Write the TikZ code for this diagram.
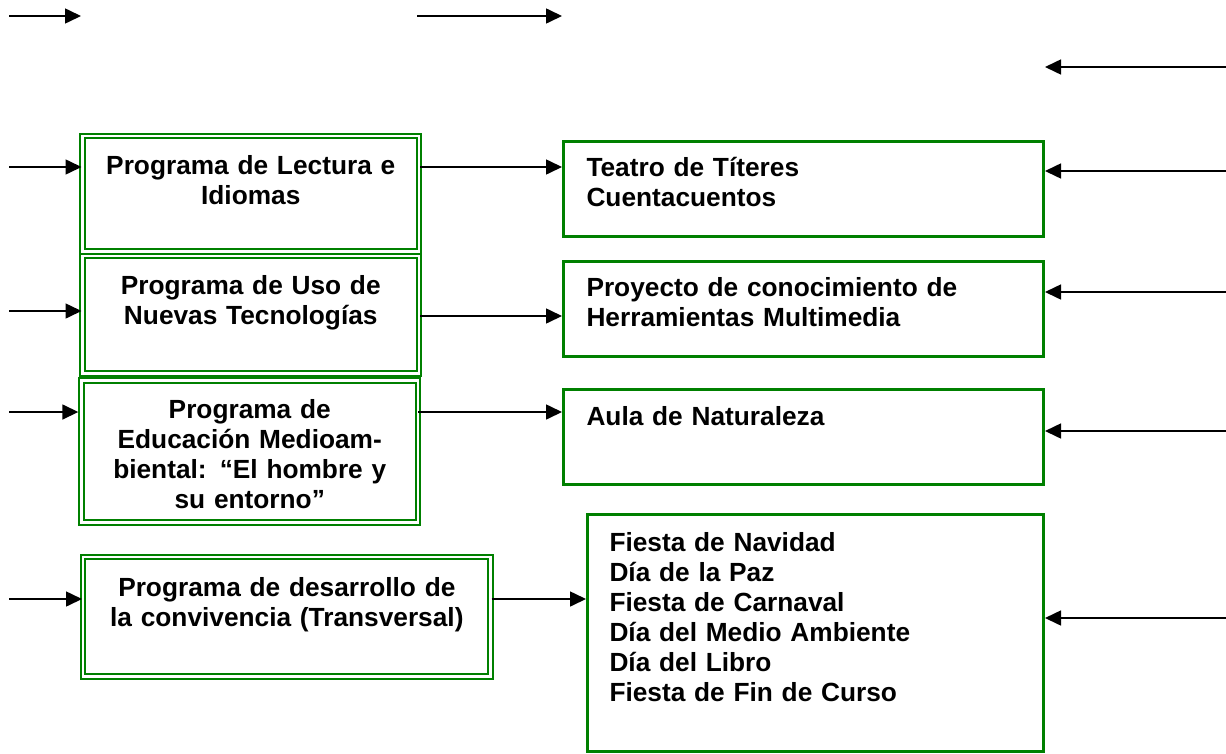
\documentclass[tikz,border=0pt]{standalone}
\usepackage{fontspec}
\setmainfont{Liberation Sans}
\usetikzlibrary{arrows.meta}
\definecolor{boxgreen}{RGB}{0,128,0}
\tikzset{
  txt/.style={font=\bfseries\fontsize{19.7pt}{22.5pt}\selectfont, inner ysep=0pt, anchor=north west},
  dbox/.style={txt, draw=boxgreen, double=white, line width=1.5pt, double distance=1.875pt, inner xsep=0pt, align=center},
  ltxt/.style={txt, inner xsep=0pt, outer sep=0pt, align=center},
  dline/.style={draw=boxgreen, double=white, line width=1.5pt, double distance=1.875pt},
  gbox/.style={txt, draw=boxgreen, line width=2.25pt, inner xsep=17.25pt, align=left},
  arr/.style={draw=black, line width=1.2pt, -{Triangle[length=12pt,width=11.25pt]}},
}
\begin{document}
\begin{tikzpicture}[x=0.75pt,y=-0.75pt]
\useasboundingbox (0,0) rectangle (1226,753);
% left boxes
\node[dbox, text width=252.375pt, text height=28.5pt, text depth=58.125pt] (L1) at (81.5,135) {Programa de Lectura e\\Idiomas};
\node[dbox, text width=252.375pt, text height=28.5pt, text depth=59.625pt] (L2) at (81.5,255) {Programa de Uso de\\Nuevas Tecnologías};
\begin{scope}
\clip (0,0) rectangle (1226,510);
\node[ltxt, text width=252.375pt, text height=28.125pt, text depth=78.375pt] (L3) at (81.5,380.5) {Programa de\\Educación Medioam-\\biental: “El hombre y\\su entorno”};
\end{scope}
\draw[dline] (L3.north west) rectangle (L3.south east);
\node[dbox, text width=305.775pt, text height=29.25pt, text depth=60.375pt] (L4) at (82,556) {Programa de desarrollo de\\la convivencia (Transversal)};
% right boxes
\node[gbox, text width=325.5pt, text height=26.25pt, text depth=45pt] (R1) at (562,140) {Teatro de Títeres\\Cuentacuentos};
\node[gbox, text width=325.5pt, text height=26.25pt, text depth=45pt] (R2) at (562,260) {Proyecto de conocimiento de\\Herramientas Multimedia};
\node[gbox, text width=325.5pt, text height=27pt, text depth=44.25pt] (R3) at (562,388) {Aula de Naturaleza};
\node[gbox, inner xsep=16.5pt, text width=309pt, text height=27.75pt, text depth=150pt] (R4) at (586,513) {Fiesta de Navidad\\Día de la Paz\\Fiesta de Carnaval\\Día del Medio Ambiente\\Día del Libro\\Fiesta de Fin de Curso};
% top arrows
\coordinate (t1) at (9,16);
\coordinate (t1e) at (81,16);
\coordinate (t2) at (417,16);
\coordinate (t3) at (1226,67);
\draw[arr] (t1) -- (t1e);
\draw[arr] (t2) -- (t2 -| R1.west);
\draw[arr] (t3) -- (t3 -| R1.east);
% left inputs
\coordinate (i1) at (9,167);
\coordinate (i2) at (9,311);
\coordinate (i3) at (9,412);
\coordinate (i4) at (9,599);
\draw[arr] (i1) -- (i1 -| L1.west);
\draw[arr] (i2) -- (i2 -| L2.west);
\draw[arr, shorten >=2.4pt] (i3) -- (i3 -| L3.west);
\draw[arr] (i4) -- (i4 -| L4.west);
% middle connectors
\coordinate (m2) at (0,316);
\draw[arr] (L1.east |- i1) -- (R1.west |- i1);
\draw[arr] (L2.east |- m2) -- (R2.west |- m2);
\draw[arr] (L3.east |- i3) -- (R3.west |- i3);
\draw[arr] (L4.east |- i4) -- (R4.west |- i4);
% right inputs
\coordinate (r1) at (1226,171);
\coordinate (r2) at (1226,292);
\coordinate (r3) at (1226,431);
\coordinate (r4) at (1226,618);
\draw[arr] (r1) -- (r1 -| R1.east);
\draw[arr] (r2) -- (r2 -| R2.east);
\draw[arr] (r3) -- (r3 -| R3.east);
\draw[arr] (r4) -- (r4 -| R4.east);
\end{tikzpicture}
\end{document}
